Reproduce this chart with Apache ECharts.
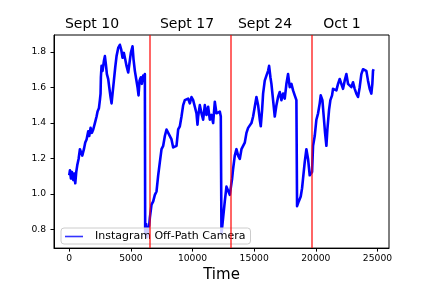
<!DOCTYPE html>
<html>
<head>
<meta charset="utf-8">
<script src="https://cdn.jsdelivr.net/npm/echarts@6/dist/echarts.min.js"></script>
<style>html,body{margin:0;padding:0;background:#fff}#c{width:432px;height:288px}</style>
</head>
<body>
<div id="c"></div>
<script>
var seriesName = 'Instagram Off-Path Camera';
var timeX = [0,57,138,219,327,408,489,570,651,759,867,948,1056,1191,1299,1407,1542,1623,1731,1839,1947,2082,2217,2298,2406,2487,2541,2568,2622,2703,2811,2892,2974,3055,3163,3244,3352,3433,3514,3622,3730,3838,3973,4108,4216,4324,4432,4540,4648,4783,4891,4999,5134,5215,5323,5431,5540,5621,5702,5810,5891,5999,6107,6134,6161,6242,6323,6404,6485,
6540,6675,6810,6945,7080,7215,7350,7486,7621,7756,7891,8026,8161,8296,8431,8566,8701,8836,8971,9106,9241,9376,9511,9646,9781,9916,10051,10187,10322,10403,10457,10592,10727,10862,10997,11132,11267,11402,11537,11672,11807,11942,12077,12212,12293,12347,12482,12617,12752,12888,13023,
13104,13212,13293,13428,13563,13698,13833,13969,14104,14239,14374,14509,14644,14779,14914,15049,15184,15319,15454,15535,15643,15724,15859,15994,16129,16210,16318,16399,16534,16670,16805,16940,17075,17210,17345,17480,17615,17750,17885,18020,18155,18290,18425,18479,18614,18776,18884,18965,19100,19235,19370,19505,19587,19695,19776,19911,20046,
20182,20317,20398,20533,20641,20749,20857,20938,21073,21181,21316,21397,21532,21667,21802,21937,22072,22207,22342,22477,22612,22748,22883,23018,23153,23288,23423,23558,23693,23828,23963,24098,24233,24368,24503,24584,24638,24692];
var values = [1.105,1.133,1.087,1.124,1.078,1.115,1.060,1.124,1.161,1.197,1.252,1.262,1.216,1.252,1.289,1.307,1.353,1.326,1.372,1.344,1.363,1.399,1.436,1.464,1.482,1.528,1.565,1.657,1.721,1.693,1.748,1.776,1.730,1.675,1.647,1.601,1.546,1.510,1.565,1.638,1.712,1.776,1.822,1.840,1.813,1.767,1.794,1.758,1.721,1.684,1.739,1.794,1.831,1.758,1.693,1.647,1.601,1.555,1.638,1.657,1.620,1.666,1.647,1.675,0.775,0.830,0.756,0.802,0.821,
0.867,0.940,0.958,0.995,1.014,1.105,1.179,1.252,1.271,1.326,1.363,1.353,1.326,1.307,1.262,1.252,1.271,1.363,1.381,1.436,1.500,1.528,1.519,1.537,1.510,1.546,1.528,1.491,1.454,1.390,1.436,1.500,1.454,1.418,1.500,1.445,1.491,1.418,1.445,1.399,1.519,1.454,1.454,1.464,1.436,0.775,0.867,0.958,1.041,1.032,0.995,
1.004,1.087,1.142,1.216,1.252,1.216,1.197,1.252,1.271,1.289,1.344,1.372,1.363,1.399,1.436,1.491,1.546,1.500,1.418,1.381,1.473,1.565,1.638,1.666,1.693,1.721,1.657,1.620,1.528,1.436,1.500,1.546,1.574,1.528,1.565,1.537,1.620,1.675,1.601,1.620,1.583,1.555,1.528,0.931,0.958,0.986,1.032,1.087,1.179,1.252,1.197,1.105,1.096,1.124,1.271,1.326,1.418,
1.454,1.510,1.555,1.528,1.436,1.344,1.271,1.363,1.473,1.528,1.555,1.592,1.601,1.583,1.620,1.647,1.657,1.592,1.638,1.675,1.620,1.629,1.601,1.629,1.592,1.565,1.546,1.601,1.675,1.702,1.712,1.693,1.638,1.592,1.565,1.620,1.693,1.702];
var eventX = [6540, 13100, 19690];
var weekLabels = ['Sept 10', 'Sept 17', 'Sept 24', 'Oct 1'];
var weekLabelX = [92, 187, 265, 342];
var xTicks = [0, 5000, 10000, 15000, 20000, 25000];
var yTicks = [0.8, 1.0, 1.2, 1.4, 1.6, 1.8];

var pts = timeX.map(function (x, i) { return [x, values[i]]; });
var font = 'DejaVu Sans';
var chart = echarts.init(document.getElementById('c'), null, {renderer: 'canvas'});
chart.setOption({
  animation: false,
  backgroundColor: '#fff',
  grid: {left: 54, right: 43, top: 35, bottom: 36, show: true, borderColor: '#000', borderWidth: 1, backgroundColor: 'transparent'},
  xAxis: {
    type: 'value', min: -1235, max: 25935,
    name: 'Time', nameLocation: 'middle', nameGap: 19,
    nameTextStyle: {fontFamily: font, fontSize: 15, color: '#000'},
    axisLine: {show: true, onZero: false, lineStyle: {color: '#000', width: 1}},
    axisTick: {show: true, length: 3.5, lineStyle: {color: '#000'}, customValues: xTicks},
    axisLabel: {fontFamily: font, fontSize: 9.2, color: '#000', margin: 6, customValues: xTicks,
      formatter: function (v) { return String(v); }},
    splitLine: {show: false}
  },
  yAxis: {
    type: 'value', min: 0.695, max: 1.895,
    axisLine: {show: true, onZero: false, lineStyle: {color: '#000', width: 1}},
    axisTick: {show: true, length: 3.5, lineStyle: {color: '#000'}, customValues: yTicks},
    axisLabel: {fontFamily: font, fontSize: 9.2, color: '#000', margin: 8, customValues: yTicks,
      formatter: function (v) { return v.toFixed(1); }},
    splitLine: {show: false}
  },
  legend: {
    data: [seriesName], left: 61, top: 228, orient: 'vertical',
    icon: 'rect', itemWidth: 18, itemHeight: 1.6,
    padding: [3, 5, 2, 4],
    backgroundColor: 'rgba(255,255,255,0.8)', borderColor: '#cccccc', borderWidth: 1, borderRadius: 3,
    textStyle: {fontFamily: font, fontSize: 11, color: '#000', padding: [0, 0, 0, 7]},
    itemStyle: {color: 'rgba(0,0,255,0.8)'}
  },
  graphic: weekLabels.map(function (t, i) {
    return {type: 'text', x: weekLabelX[i], y: 24, style: {text: t, fontFamily: font, fontSize: 14, fill: '#000', textAlign: 'center', textVerticalAlign: 'middle'}};
  }),
  series: [
    {
      name: seriesName, type: 'line', data: pts, showSymbol: false, symbol: 'none',
      lineStyle: {color: '#0000ff', width: 2.6, join: 'round'}, itemStyle: {color: '#0000ff'}, z: 2
    },
    {
      name: 'events', type: 'line', data: [], z: 3,
      markLine: {
        silent: true, symbol: 'none', label: {show: false},
        lineStyle: {color: 'rgba(255,0,0,0.8)', type: 'solid', width: 1.5},
        data: eventX.map(function (x) { return {xAxis: x}; })
      }
    }
  ]
});
</script>
</body>
</html>
